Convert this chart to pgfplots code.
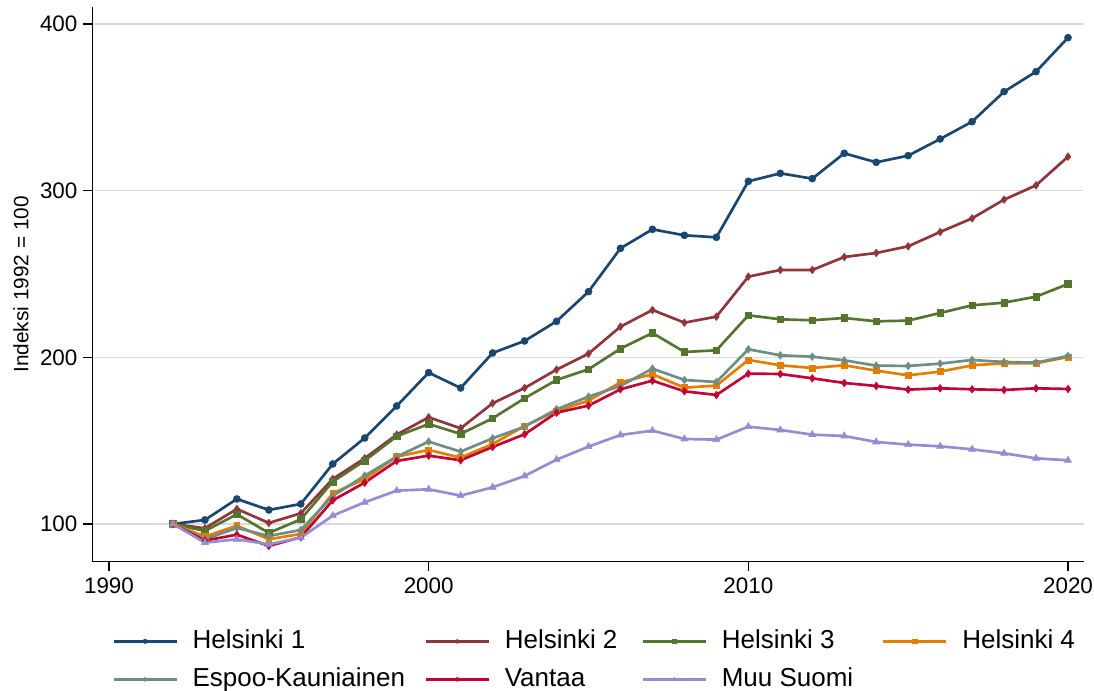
\documentclass[border=0pt]{standalone}
\usepackage{pgfplots}
\usepackage{pgfplotstable}
\pgfplotsset{compat=1.18}
\usepackage{fontspec}
\setmainfont{Liberation Sans}
\definecolor{cnavy}{HTML}{1A476F}
\definecolor{cmaroon}{HTML}{90353B}
\definecolor{cgreen}{HTML}{55752F}
\definecolor{corange}{HTML}{E37E00}
\definecolor{cteal}{HTML}{6E8E84}
\definecolor{ccran}{HTML}{C10534}
\definecolor{clav}{HTML}{938DD2}
\definecolor{cgrid}{HTML}{DADADA}
\pgfplotstableread{
year h1 h2 h3 h4 esp van muu
1992 100 100 100 100 100 100 100
1993 102.4 97.4 95.8 92.4 90.8 90.0 88.8
1994 115.0 109.0 105.8 99.0 97.6 93.6 90.8
1995 108.4 100.6 94.6 90.8 92.8 86.8 87.8
1996 112.0 106.4 102.8 94.0 96.4 92.0 91.8
1997 136.0 127.0 125.4 118.4 116.8 114.2 105.0
1998 151.6 139.4 138.0 127.0 129.0 124.8 113.0
1999 170.8 153.6 152.6 140.4 140.4 137.8 120.0
2000 190.8 164.0 160.0 144.4 149.4 141.0 120.8
2001 181.6 157.4 154.0 139.8 143.4 138.2 117.0
2002 202.6 172.4 163.4 148.0 151.4 146.2 122.0
2003 209.8 181.6 175.4 158.8 158.4 153.8 128.8
2004 221.6 192.6 186.4 167.8 168.8 166.8 138.6
2005 239.4 202.2 192.8 174.0 176.4 171.0 146.4
2006 265.4 218.4 205.2 185.0 182.8 180.8 153.4
2007 276.8 228.4 214.6 189.8 193.2 186.0 156.0
2008 273.2 220.8 203.2 181.8 186.4 179.6 151.0
2009 272.0 224.4 204.2 183.0 185.2 177.4 150.6
2010 305.6 248.4 225.2 198.4 204.8 190.2 158.4
2011 310.4 252.4 222.8 195.2 201.2 190.0 156.4
2012 307.2 252.4 222.2 193.6 200.4 187.4 153.6
2013 322.4 260.2 223.6 195.2 198.2 184.6 152.8
2014 317.0 262.6 221.6 192.0 195.0 182.8 149.2
2015 321.0 266.6 222.0 189.2 194.8 180.6 147.6
2016 331.0 275.2 226.6 191.4 196.2 181.4 146.6
2017 341.4 283.4 231.2 195.2 198.4 180.8 144.8
2018 359.4 294.6 232.8 196.4 197.2 180.4 142.4
2019 371.4 303.2 236.4 196.4 196.8 181.4 139.4
2020 391.8 320.4 244.0 200.2 200.8 181.0 138.2
}\datatable
\begin{document}
\begin{tikzpicture}
\begin{axis}[
  scale only axis,
  width=743.8pt, height=416pt,
  xmin=1989.478, xmax=2020.5,
  ymin=77.4, ymax=410.2,
  axis lines=left,
  axis line style={-, line width=1pt, black},
  xtick={1990,2000,2010,2020},
  ytick={100,200,300,400},
  tick align=outside,
  major tick length=7pt,
  tick style={line width=1pt, black},
  ymajorgrids,
  grid style={line width=0.9pt, cgrid},
  /pgf/number format/1000 sep={},
  /pgf/number format/assume math mode=true,
  ticklabel style={font=\fontsize{16.8}{20}\selectfont},
  yticklabel style={inner sep=1pt, xshift=-3pt},
  xticklabel style={inner sep=1pt, yshift=-4pt},
  ylabel={Indeksi 1992 = 100},
  ylabel style={font=\fontsize{15.6}{18}\selectfont, at={(axis description cs:-0.0719,0.5)}, anchor=center},
  clip=false,
  legend columns=4,
  legend cell align=left,
  legend style={
    at={(axis description cs:0.0199,-0.1216)}, anchor=north west,
    draw=none, fill=none, inner sep=0pt,
    font=\fontsize{19.5}{23}\selectfont,
    nodes={inner sep=0pt, text height=14pt, text depth=4pt},
    row sep=10.5pt,
    /tikz/column 1/.style={column sep=11pt},
    /tikz/column 2/.style={column sep=14.5pt},
    /tikz/column 3/.style={column sep=11pt},
    /tikz/column 4/.style={column sep=18pt},
    /tikz/column 5/.style={column sep=11pt},
    /tikz/column 6/.style={column sep=21.5pt},
    /tikz/column 7/.style={column sep=11pt},
  },
  legend image code/.code={\draw[#1, mark repeat=2, mark phase=2, mark size=1.6pt] plot coordinates {(0pt,0pt) (23.6pt,0pt) (47.25pt,0pt)};},
  every axis plot/.append style={line width=2pt},
]
\addplot[cnavy, mark=*, mark size=2.6pt, mark options={solid, line width=0.5pt}] table[x=year, y=h1] {\datatable};
\addlegendentry{Helsinki 1}
\addplot[cmaroon, mark=diamond*, mark size=2.8pt, mark options={solid, line width=0.5pt}] table[x=year, y=h2] {\datatable};
\addlegendentry{Helsinki 2}
\addplot[cgreen, mark=square*, mark size=2.4pt, mark options={solid, line width=0.5pt}] table[x=year, y=h3] {\datatable};
\addlegendentry{Helsinki 3}
\addplot[corange, mark=square*, mark size=2.2pt, mark options={solid, line width=0.5pt}] table[x=year, y=h4] {\datatable};
\addlegendentry{Helsinki 4}
\addplot[cteal, mark=diamond*, mark size=2.8pt, mark options={solid, line width=0.5pt}] table[x=year, y=esp] {\datatable};
\addlegendentry{Espoo-Kauniainen}
\addplot[ccran, mark=diamond*, mark size=2.8pt, mark options={solid, line width=0.5pt}] table[x=year, y=van] {\datatable};
\addlegendentry{Vantaa}
\addplot[clav, mark=triangle*, mark size=3pt, mark options={solid, line width=0.5pt}] table[x=year, y=muu] {\datatable};
\addlegendentry{Muu Suomi}
\coordinate (bbl) at (axis description cs:-0.0931,-0.2331);
\coordinate (btr) at (axis description cs:1.0101,1.01262);
\end{axis}
\pgfresetboundingbox
\path (bbl) rectangle (btr);
\end{tikzpicture}
\end{document}
